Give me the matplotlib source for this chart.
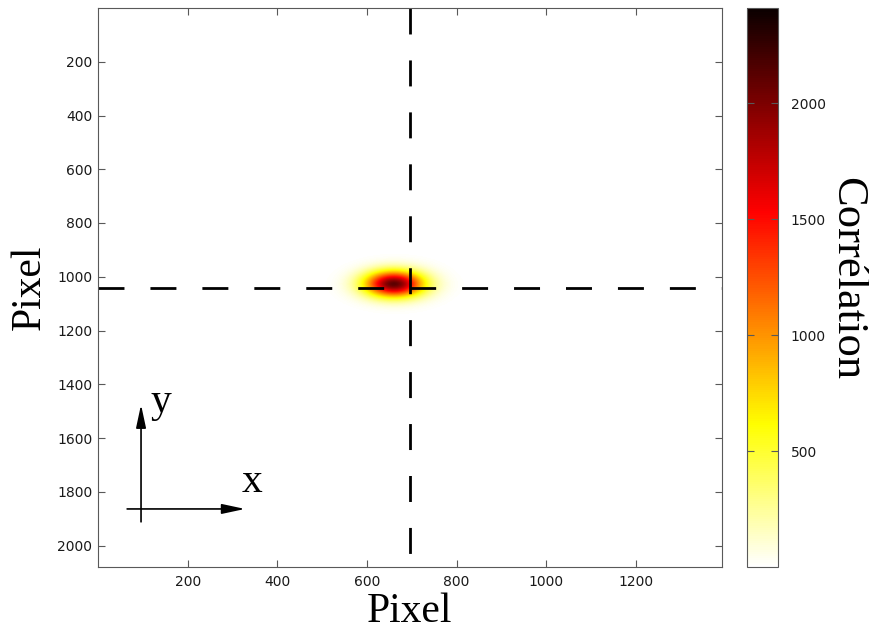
import numpy as np
import matplotlib
matplotlib.use('Agg')
import matplotlib.pyplot as plt

plt.rcParams['font.family'] = ['DejaVu Sans']
plt.rcParams['font.size'] = 10
plt.rcParams['lines.scale_dashes'] = False

# taille de l'image (pixels) et position du pic
X_MAX = 1392
Y_MAX = 2080
X_CROSS = 696
Y_CROSS = 1040

# carte de corrélation autour du pic
blob_x = [510, 540, 570, 600, 630, 660, 690, 720, 750, 780, 810]
blob_y = [920, 942, 964, 986, 1008, 1030, 1052, 1074, 1096, 1118, 1140]
blob_vals = [
    [0, 0, 0, 2, 4, 5, 4, 3, 1, 0, 0],
    [0, 1, 4, 15, 32, 41, 33, 17, 6, 1, 0],
    [0, 4, 24, 86, 186, 240, 190, 92, 30, 6, 0],
    [2, 15, 87, 311, 670, 864, 675, 320, 95, 18, 2],
    [4, 32, 188, 670, 1440, 1900, 1450, 690, 205, 38, 5],
    [5, 41, 242, 864, 1900, 2500, 1890, 890, 270, 52, 6],
    [4, 32, 188, 670, 1440, 1880, 1460, 700, 215, 42, 5],
    [2, 15, 87, 311, 670, 864, 680, 330, 102, 20, 2],
    [0, 4, 24, 86, 186, 240, 192, 95, 30, 6, 0],
    [0, 1, 4, 15, 32, 41, 33, 17, 6, 1, 0],
    [0, 0, 0, 2, 4, 5, 4, 3, 1, 0, 0],
]
cbar_ticks = [500, 1000, 1500, 2000]
x_ticks = [200, 400, 600, 800, 1000, 1200]
y_ticks = [200, 400, 600, 800, 1000, 1200, 1400, 1600, 1800, 2000]

# repère x/y dessiné en bas à gauche
arrow_origin = (96, 1912)
arrow_y_tip = (96, 1476)
arrow_x_start = (65, 1864)
arrow_x_tip = (328, 1864)

SERIF = 'Liberation Serif'
GREY = '0.35'

fig = plt.figure(figsize=(8.69, 6.3), dpi=100)
ax = fig.add_axes([98 / 869, 63 / 630, 624 / 869, 559 / 630])
cax = fig.add_axes([747 / 869, 63 / 630, 31 / 869, 559 / 630])

dx = blob_x[1] - blob_x[0]
dy = blob_y[1] - blob_y[0]
extent = (blob_x[0] - dx / 2, blob_x[-1] + dx / 2,
          blob_y[-1] + dy / 2, blob_y[0] - dy / 2)
im = ax.imshow(np.array(blob_vals, dtype=float), cmap='hot_r', vmin=0, vmax=2410,
               extent=extent, origin='upper', aspect='auto', interpolation='bicubic')

ax.plot([X_CROSS, X_CROSS], [0, Y_MAX], color='k', lw=2.0, dashes=(18.7, 18.7))
ax.plot([0, X_MAX], [Y_CROSS, Y_CROSS], color='k', lw=2.0, dashes=(18.7, 18.7))

arrow_kw = dict(arrowstyle='-|>,head_length=1.4,head_width=0.3', color='k',
                lw=1.2, shrinkA=0, shrinkB=0)
ax.annotate('', xy=arrow_y_tip, xytext=arrow_origin, arrowprops=arrow_kw)
ax.annotate('', xy=arrow_x_tip, xytext=arrow_x_start, arrowprops=arrow_kw)
ax.text(140, 1502, 'y', fontfamily=SERIF, fontsize=30, ha='center', va='baseline')
ax.text(343, 1800, 'x', fontfamily=SERIF, fontsize=30, ha='center', va='baseline')

ax.set_xlim(0, X_MAX)
ax.set_ylim(Y_MAX, 0)
ax.set_xticks(x_ticks)
ax.set_yticks(y_ticks)
ax.tick_params(direction='in', top=True, right=True, length=5, color=GREY,
               labelcolor='0.1')
ax.tick_params(axis='x', pad=6)
ax.tick_params(axis='y', pad=4)
for sp in ax.spines.values():
    sp.set_color(GREY)
ax.set_xlabel('Pixel', fontfamily=SERIF, fontsize=30, labelpad=2)
ax.set_ylabel('Pixel', fontfamily=SERIF, fontsize=30, labelpad=6)

cb = fig.colorbar(im, cax=cax, ticks=cbar_ticks)
cb.outline.set_edgecolor(GREY)
cax.tick_params(direction='in', left=True, right=True, length=5, color=GREY,
                pad=9, labelcolor='0.1')
cb.set_label('Corrélation', fontfamily=SERIF, fontsize=32, rotation=270, va='bottom')
cax.yaxis.set_label_coords(2.6, 0.516)

fig.savefig('out.png', dpi=100)
